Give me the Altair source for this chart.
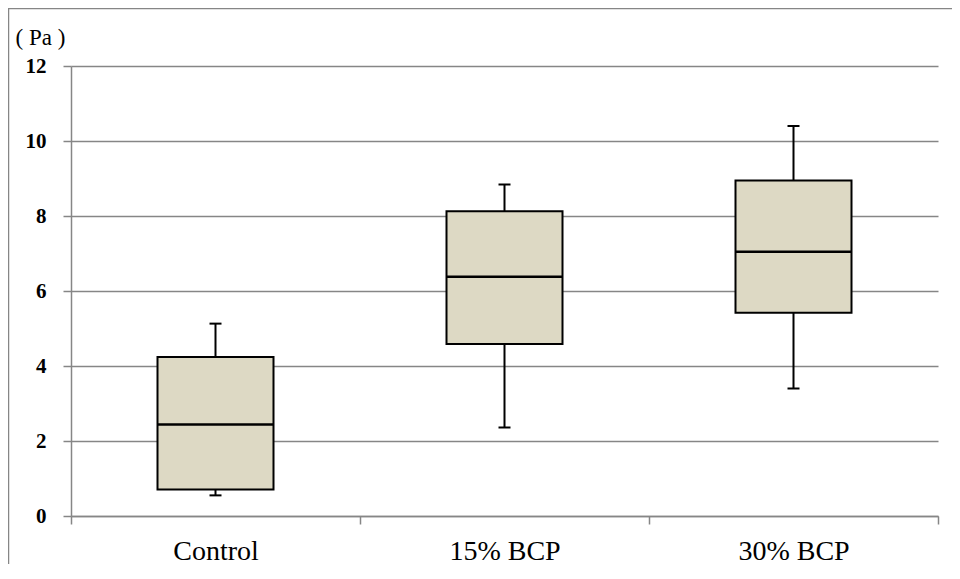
import altair as alt
import pandas as pd

categories = ["Control", "15% BCP", "30% BCP"]
mins = [0.55, 2.36, 3.40]
q1s = [0.71, 4.59, 5.42]
medians = [2.44, 6.38, 7.05]
q3s = [4.24, 8.13, 8.95]
maxs = [5.13, 8.84, 10.40]
y_ticks = [0, 2, 4, 6, 8, 10, 12]

df = pd.DataFrame({"group": categories, "min": mins, "q1": q1s,
                   "median": medians, "q3": q3s, "max": maxs})

GRAY = "#868686"
FONT = "Liberation Serif"
BOX = "#DDD9C4"

x_enc = alt.X(
    "group:N", sort=categories,
    scale=alt.Scale(paddingInner=0, paddingOuter=0),
    axis=alt.Axis(title=None, tickBand="extent", labelAngle=0, labelFont=FONT,
                  labelFontSize=28, labelColor="black", labelPadding=13,
                  tickSize=8, tickColor=GRAY, tickWidth=1.5,
                  domainColor=GRAY, domainWidth=1.5, grid=False),
)
y_axis = alt.Axis(
    title="( Pa )", values=y_ticks, grid=True, gridColor=GRAY, gridWidth=1.5,
    domainColor=GRAY, domainWidth=1.5, tickColor=GRAY, tickWidth=1.5, tickSize=8,
    labelFont=FONT, labelFontSize=21, labelFontWeight="bold", labelColor="black",
    labelPadding=17,
    titleAngle=0, titleX=-31, titleY=-29, titleAlign="center", titleBaseline="middle",
    titleFont=FONT, titleFontSize=23, titleFontWeight="normal", titleColor="black",
)
y_scale = alt.Scale(domain=[0, 12], nice=False)

base = alt.Chart(df)

whisker = base.mark_rule(color="black", strokeWidth=2).encode(
    x=x_enc,
    y=alt.Y("min:Q", scale=y_scale, axis=y_axis),
    y2="max:Q",
)
box = base.mark_bar(size=116, fill=BOX, stroke="black", strokeWidth=2).encode(
    x=x_enc,
    y=alt.Y("q1:Q", scale=y_scale, axis=y_axis),
    y2="q3:Q",
)
median = base.mark_tick(size=116, thickness=2.5, color="black", opacity=1).encode(
    x=x_enc,
    y=alt.Y("median:Q", scale=y_scale, axis=y_axis),
)
cap_lo = base.mark_tick(size=12, thickness=2, color="black", opacity=1).encode(
    x=x_enc,
    y=alt.Y("min:Q", scale=y_scale, axis=y_axis),
)
cap_hi = base.mark_tick(size=12, thickness=2, color="black", opacity=1).encode(
    x=x_enc,
    y=alt.Y("max:Q", scale=y_scale, axis=y_axis),
)
frame = alt.Chart(pd.DataFrame({"f": [0]})).mark_rect(
    fillOpacity=0, stroke=GRAY, strokeWidth=1.5
).encode(
    x=alt.value(-62.5), x2=alt.value(1200),
    y=alt.value(-57.5), y2=alt.value(1200),
)

chart = alt.layer(frame, whisker, box, median, cap_lo, cap_hi).properties(
    width=867, height=450,
    autosize=alt.AutoSizeParams(type="none"),
    padding={"left": 63, "top": 58, "right": 14, "bottom": 48},
).configure_view(strokeWidth=0)

chart.save("out.html", embed_options={"renderer": "svg", "actions": False})
